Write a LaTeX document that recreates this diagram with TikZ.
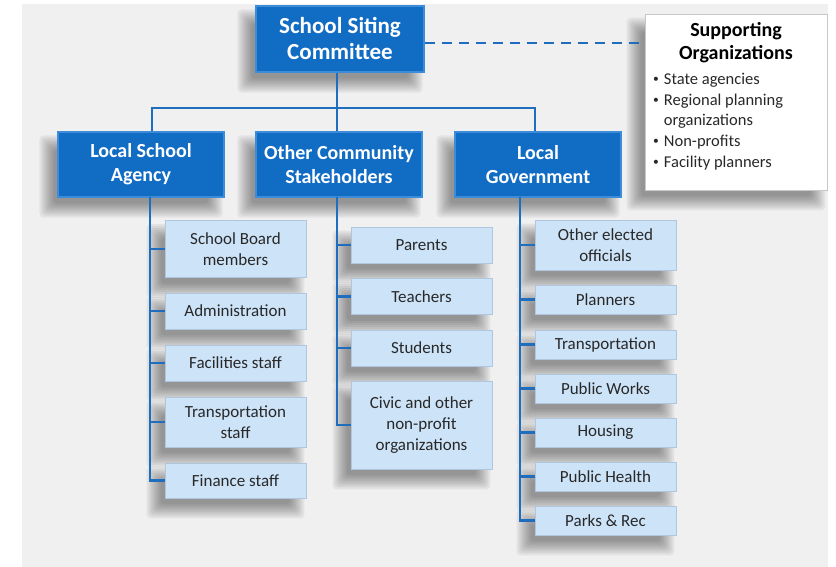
\documentclass[tikz,border=0pt]{standalone}
\usepackage{fontspec}
\setmainfont{Carlito}
\pgfdeclarelayer{backdrop}
\pgfdeclarelayer{shade}
\pgfsetlayers{backdrop,shade,main}
\definecolor{bgcol}{RGB}{240,240,240}
\definecolor{headblue}{RGB}{17,108,196}
\definecolor{headedge}{RGB}{60,140,218}
\definecolor{memberblue}{RGB}{205,227,248}
\definecolor{memberedge}{RGB}{175,198,222}
\definecolor{linkblue}{RGB}{31,110,190}
\definecolor{textgray}{RGB}{40,40,40}
\definecolor{supedge}{RGB}{200,200,200}
\newcommand{\supbullet}{\raisebox{0.12em}{\scalebox{0.7}{\textbullet}}\hspace{5pt}}
\newcommand{\softshadow}[1]{%
  \foreach \e in {-6,-4,...,8} {
    \fill[black, opacity=0.055, rounded corners=4pt]
      ([shift={(-10-\e,12-\e)}]#1.north west) rectangle
      ([shift={(-10+\e,12+\e)}]#1.south east);
  }}
\tikzset{
  headbox/.style={rectangle, fill=headblue, draw=headedge, line width=1.2pt,
      text=white, font=\fontsize{20}{24}\selectfont\bfseries, align=center,
      minimum width=166pt, minimum height=65pt, inner sep=0pt},
  memberbox/.style={rectangle, fill=memberblue, draw=memberedge, line width=0.8pt,
      text=textgray, font=\fontsize{17}{21}\selectfont, align=center,
      minimum width=141pt, inner sep=0pt},
  supbox/.style={rectangle, fill=white, draw=supedge, line width=0.8pt,
      minimum width=182pt, minimum height=176pt, inner sep=0pt},
  link/.style={draw=linkblue, line width=2.6pt},
}
\begin{document}
\begin{tikzpicture}[x=1pt, y=-1pt]
  \useasboundingbox (0,0) rectangle (836,567);
  \begin{pgfonlayer}{backdrop}
    \fill[bgcol] (22,4) rectangle (828,567);
  \end{pgfonlayer}

  \node[supbox] (sup) at (736,102) {};
  \node[font=\fontsize{20}{23}\selectfont\bfseries, text=black, align=center]
    (suptitle) at (736,43) {Supporting\\Organizations};
  \node[font=\fontsize{16.5}{20.7}\selectfont, text=textgray, align=left,
    anchor=north west, inner sep=0pt] (suplist) at (653,73)
    {\supbullet State agencies\\
     \supbullet Regional planning\\
     \phantom{\supbullet}organizations\\
     \supbullet Non-profits\\
     \supbullet Facility planners};

  \node[headbox, minimum width=168pt, minimum height=66pt,
    font=\fontsize{23}{26}\selectfont\bfseries] (ssc) at (340,39) {School Siting\\Committee};
  \node[headbox] (lsa) at (141,164.5) {Local School\\Agency};
  \node[headbox] (ocs) at (339,164.5) {Other Community\\Stakeholders};
  \node[headbox] (lg) at (538,164.5) {Local\\Government};

  \node[memberbox, minimum height=57pt] (sbm) at (235.5,249) {School Board\\members};
  \node[memberbox, minimum height=36pt] (adm) at (235.5,311) {Administration};
  \node[memberbox, minimum height=36pt] (fac) at (235.5,363) {Facilities staff};
  \node[memberbox, minimum height=50pt] (trs) at (235.5,422) {Transportation\\staff};
  \node[memberbox, minimum height=35pt] (fin) at (235.5,480.5) {Finance staff};

  \node[memberbox, minimum height=36pt] (par) at (421.5,245) {Parents};
  \node[memberbox, minimum height=36pt] (tea) at (421.5,296.5) {Teachers};
  \node[memberbox, minimum height=36pt] (stu) at (421.5,348) {Students};
  \node[memberbox, minimum height=88pt] (civ) at (421.5,425) {Civic and other\\non-profit\\organizations};

  \node[memberbox, minimum height=50pt] (oeo) at (605.5,245) {Other elected\\officials};
  \node[memberbox, minimum height=29pt] (pla) at (605.5,299.5) {Planners};
  \node[memberbox, minimum height=29pt] (tra) at (605.5,344.5) {Transportation};
  \node[memberbox, minimum height=29pt] (pwo) at (605.5,388.5) {Public Works};
  \node[memberbox, minimum height=29pt] (hou) at (605.5,432.5) {Housing};
  \node[memberbox, minimum height=29pt] (phe) at (605.5,476.5) {Public Health};
  \node[memberbox, minimum height=29pt] (prk) at (605.5,520.5) {Parks \& Rec};

  \begin{pgfonlayer}{shade}
    \foreach \n in {sup,ssc,lsa,ocs,lg,sbm,adm,fac,trs,fin,par,tea,stu,civ,
                    oeo,pla,tra,pwo,hou,phe,prk}
      {\softshadow{\n}}
  \end{pgfonlayer}

  \coordinate (barl) at (152,108);
  \coordinate (barr) at (535,108);
  \coordinate (lsatrunk) at (150,197);
  \coordinate (ocstrunk) at (337,197);
  \coordinate (lgtrunk) at (520,197);

  \begin{scope}[link]
    \draw (ssc.south -| ocstrunk) -- (ocs.north -| ocstrunk);
    \draw (barl |- lsa.north) -- (barl) -- (barr) -- (barr |- lg.north);
    \draw (lsatrunk) |- (sbm.west);
    \draw (lsatrunk) |- (adm.west);
    \draw (lsatrunk) |- (fac.west);
    \draw (lsatrunk) |- (trs.west);
    \draw (lsatrunk) |- (fin.west);
    \draw (ocstrunk) |- (par.west);
    \draw (ocstrunk) |- (tea.west);
    \draw (ocstrunk) |- (stu.west);
    \draw (ocstrunk) |- (civ.west);
    \draw (lgtrunk) |- (oeo.west);
    \draw (lgtrunk) |- (pla.west);
    \draw (lgtrunk) |- (tra.west);
    \draw (lgtrunk) |- (pwo.west);
    \draw (lgtrunk) |- (hou.west);
    \draw (lgtrunk) |- (phe.west);
    \draw (lgtrunk) |- (prk.west);
    \draw[line width=2.2pt, dash pattern=on 10pt off 7pt]
      ([yshift=-4pt]ssc.east) -- ([yshift=-4pt]ssc.east -| sup.west);
  \end{scope}
\end{tikzpicture}
\end{document}
